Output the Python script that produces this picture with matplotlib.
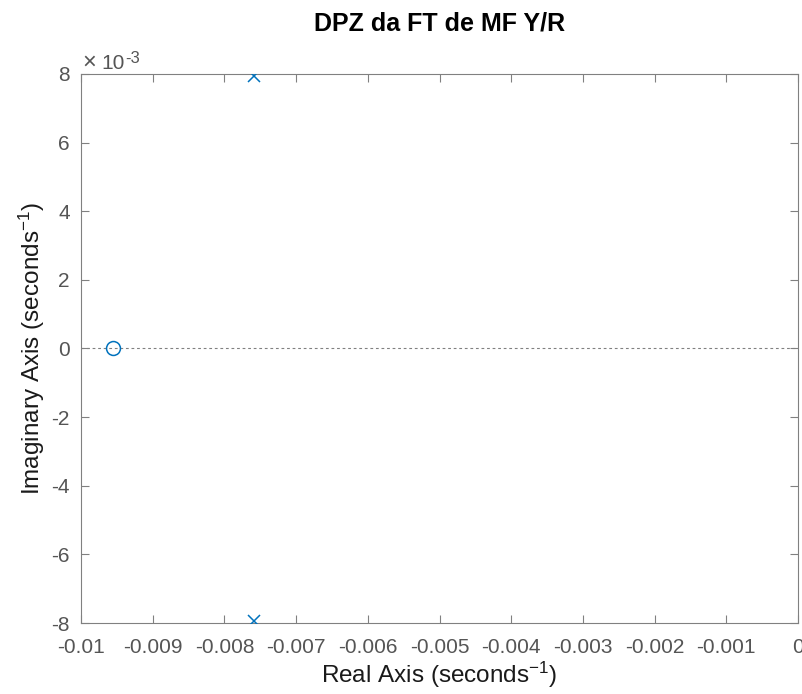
import matplotlib.pyplot as plt
import numpy as np
from matplotlib.ticker import FuncFormatter

plt.rcParams['font.family'] = ['Liberation Sans', 'DejaVu Sans']
plt.rcParams['axes.unicode_minus'] = False
plt.rcParams['mathtext.fontset'] = 'custom'
plt.rcParams['mathtext.rm'] = 'Liberation Sans'
plt.rcParams['mathtext.it'] = 'Liberation Sans:italic'
plt.rcParams['mathtext.bf'] = 'Liberation Sans:bold'

# Poles and zeros of the closed-loop transfer function (seconds^-1)
pole_re = [-0.00759, -0.00759]
pole_im = [0.00793, -0.00795]
zero_re = [-0.00956]
zero_im = [0.0]

x_ticks = np.round(np.arange(-0.010, 0.0001, 0.001), 3)
y_ticks = np.arange(-8, 9, 2) * 1e-3

blue = '#0072BD'
gray = '#555555'
axis_gray = '#808080'

fig = plt.figure(figsize=(8.03, 6.94), dpi=100)
ax = fig.add_axes([0.1009, 0.1023, 0.8929, 0.7911])

ax.axhline(0, color=axis_gray, linestyle=(0, (2.5, 2.5)), linewidth=0.8, zorder=1)
ax.plot(pole_re, pole_im, linestyle='none', marker='x', markersize=9,
        markeredgewidth=1.1, color=blue, zorder=3)
ax.plot(zero_re, zero_im, linestyle='none', marker='o', markersize=10,
        markerfacecolor='none', markeredgewidth=1.1, color=blue, zorder=3)

ax.set_xlim(-0.01, 0)
ax.set_ylim(-8e-3, 8e-3)
ax.set_xticks(x_ticks)
ax.set_yticks(y_ticks)
ax.xaxis.set_major_formatter(FuncFormatter(lambda v, p: '0' if abs(v) < 1e-12 else ('%g' % round(v, 3))))
ax.yaxis.set_major_formatter(FuncFormatter(lambda v, p: '%d' % round(v * 1e3)))

ax.tick_params(direction='in', top=True, right=True, length=6, width=0.8,
               colors=axis_gray, labelcolor=gray, labelsize=15, pad=8)
ax.tick_params(axis='x', pad=11)
for s in ax.spines.values():
    s.set_color(axis_gray)
    s.set_linewidth(0.8)

ax.set_xlabel(r'Real Axis (seconds$^{-1}$)', fontsize=17.5, color='#1a1a1a', labelpad=2)
ax.set_ylabel(r'Imaginary Axis (seconds$^{-1}$)', fontsize=17.5, color='#1a1a1a', labelpad=3)
ax.set_title('DPZ da FT de MF Y/R', fontsize=18, fontweight='bold', color='black', pad=31)

# exponent label like MATLAB
ax.text(0.002, 1.010, '\u00d7', transform=ax.transAxes, fontsize=17, color=gray,
        ha='left', va='baseline')
ax.text(0.028, 1.009, '10', transform=ax.transAxes, fontsize=15, color=gray,
        ha='left', va='baseline')
ax.text(0.0614, 1.041, '-3', transform=ax.transAxes, fontsize=12, color=gray,
        ha='left', va='top')

fig.savefig('out.png', dpi=100)
